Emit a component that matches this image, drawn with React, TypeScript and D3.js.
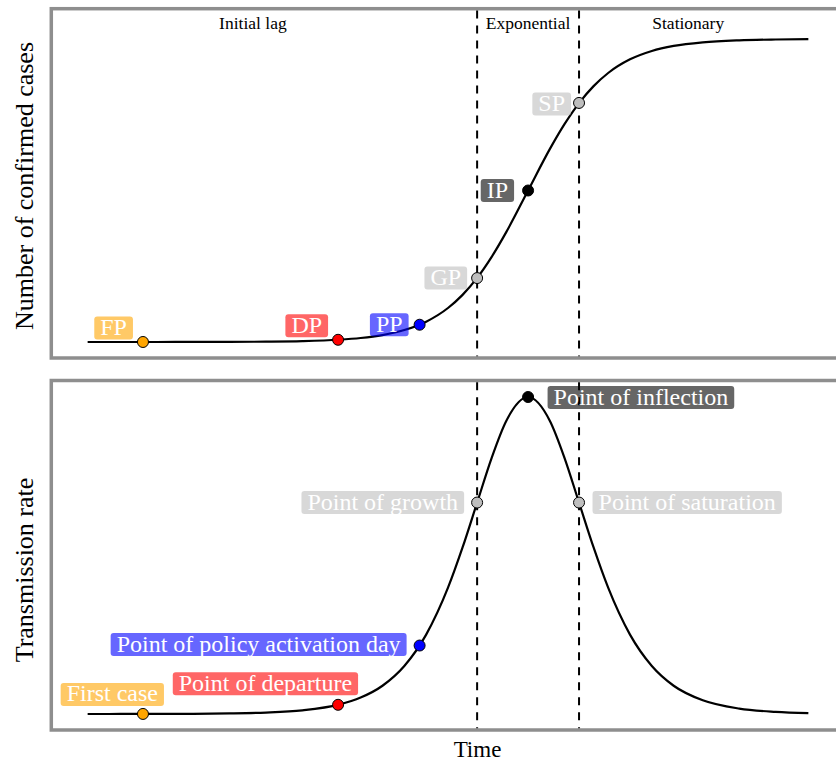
import { useEffect, useRef } from "react";
import * as d3 from "d3";

// time axis (days) and the two curves
const days = [0.5, 5, 10, 15, 20, 25, 30, 35, 38, 41, 44, 47, 50, 52, 54, 56, 58, 61, 64, 66, 68, 70, 72, 75, 78, 81, 85, 90, 95, 99.5];
const cases = [0.001, 0.003, 0.007, 0.018, 0.045, 0.115, 0.29, 0.75, 1.31, 2.28, 3.94, 6.71, 11.22, 15.55, 21.14, 28.1, 36.26, 50, 63.74, 71.9, 78.86, 84.45, 88.78, 93.29, 96.06, 97.72, 98.91, 99.57, 99.83, 99.93];
const rate = [0.004, 0.011, 0.027, 0.07, 0.18, 0.46, 1.17, 2.97, 5.18, 8.91, 15.14, 25.04, 39.84, 52.53, 66.68, 80.82, 92.45, 100, 92.45, 80.82, 66.68, 52.53, 39.84, 25.04, 15.14, 8.91, 4.31, 1.7, 0.67, 0.26];

// marked points
const eventCodes = ["FP", "DP", "PP", "GP", "IP", "SP"];
const eventNames = ["First case", "Point of departure", "Point of policy activation day", "Point of growth", "Point of inflection", "Point of saturation"];
const eventDays = [8.1, 34.9, 46.1, 54, 61, 68];
const eventCases = [0.004, 0.73, 5.7, 21.1, 50, 78.9];
const eventRate = [0.019, 2.9, 21.6, 66.7, 100, 66.7];

// phases
const phaseNames = ["Initial lag", "Exponential", "Stationary"];
const phaseBreaks = [54, 68];

// styling / layout
const eventColors = ["#FFA500", "#FF0000", "#0000FF", "#BEBEBE", "#000000", "#BEBEBE"];
const phaseLabelDays = [23.2, 61, 83];
// side: which side of the point the box sits, gap: px from point to nearest box edge, dy: box centre offset
const topLayout = [
  { side: "left", gap: 10, dy: -14 },
  { side: "left", gap: 10, dy: -14 },
  { side: "left", gap: 11, dy: 0 },
  { side: "left", gap: 10, dy: 0 },
  { side: "left", gap: 14, dy: 0 },
  { side: "left", gap: 8, dy: 1 },
];
const bottomLayout = [
  { side: "left", gap: -21, dy: -19.5 },
  { side: "left", gap: -20, dy: -21 },
  { side: "left", gap: 13, dy: -1 },
  { side: "left", gap: 13, dy: 0 },
  { side: "right", gap: 19.5, dy: 0.5 },
  { side: "right", gap: 13.5, dy: 0 },
];

const FONT = "'Liberation Serif', 'Times New Roman', serif";

export default function App() {
  const svgRef = useRef<SVGSVGElement>(null);

  useEffect(() => {
    const svg = d3.select(svgRef.current);
    svg.selectAll("*").remove();

    const x = d3.scaleLinear().domain([0, 100]).range([84, 812]);
    const yTop = d3.scaleLinear().domain([0, 100]).range([342, 39]);
    const yBot = d3.scaleLinear().domain([0, 100]).range([714, 397]);

    const panels = [
      { top: 8.7, bottom: 358, y: yTop, values: cases, ev: eventCases, names: eventCodes, layout: topLayout },
      { top: 380.5, bottom: 730, y: yBot, values: rate, ev: eventRate, names: eventNames, layout: bottomLayout },
    ];

    panels.forEach((p) => {
      const g = svg.append("g");
      // panel border
      g.append("rect")
        .attr("x", 51.3)
        .attr("y", p.top)
        .attr("width", 840)
        .attr("height", p.bottom - p.top)
        .attr("fill", "none")
        .attr("stroke", "#8e8e8e")
        .attr("stroke-width", 3.5);

      // phase boundaries
      g.selectAll(".phase")
        .data(phaseBreaks)
        .join("line")
        .attr("x1", (d) => x(d))
        .attr("x2", (d) => x(d))
        .attr("y1", p.top + 1.75)
        .attr("y2", p.bottom - 1.75)
        .attr("stroke", "#000")
        .attr("stroke-width", 2)
        .attr("stroke-dasharray", "8,7");

      // curve
      const line = d3
        .line<number>()
        .x((_, i) => x(days[i]))
        .y((v) => p.y(v))
        .curve(d3.curveMonotoneX);
      g.append("path")
        .attr("d", line(p.values))
        .attr("fill", "none")
        .attr("stroke", "#000")
        .attr("stroke-width", 2.2);

      // labels
      p.names.forEach((name, i) => {
        const px = x(eventDays[i]);
        const py = p.y(p.ev[i]);
        const lay = p.layout[i];
        const lg = g.append("g");
        const rect = lg.append("rect");
        const txt = lg
          .append("text")
          .text(name)
          .attr("font-family", FONT)
          .attr("font-size", 24)
          .attr("fill", "#fff");
        const w = (txt.node() as SVGTextElement).getComputedTextLength();
        const pad = 6;
        const bw = w + pad * 2;
        const bh = 23;
        const cy = py + lay.dy;
        const left = lay.side === "left" ? px - lay.gap - bw : px + lay.gap;
        rect
          .attr("x", left)
          .attr("y", cy - bh / 2)
          .attr("width", bw)
          .attr("height", bh)
          .attr("rx", 3)
          .attr("fill", eventColors[i])
          .attr("fill-opacity", 0.6);
        txt.attr("x", left + pad).attr("y", cy + 7);
      });

      // points
      g.selectAll(".pt")
        .data(eventDays)
        .join("circle")
        .attr("cx", (d) => x(d))
        .attr("cy", (_, i) => p.y(p.ev[i]))
        .attr("r", 5.5)
        .attr("fill", (_, i) => eventColors[i])
        .attr("stroke", "#000")
        .attr("stroke-width", 1);
    });

    // phase names
    svg.selectAll(".phaseName")
      .data(phaseNames)
      .join("text")
      .attr("x", (_, i) => x(phaseLabelDays[i]))
      .attr("y", 29)
      .attr("text-anchor", "middle")
      .attr("font-family", FONT)
      .attr("font-size", 17.5)
      .attr("fill", "#000")
      .text((d) => d);

    // axis titles
    svg.append("text")
      .attr("transform", "translate(33,186) rotate(-90)")
      .attr("text-anchor", "middle")
      .attr("font-family", FONT)
      .attr("font-size", 26)
      .text("Number of confirmed cases");
    svg.append("text")
      .attr("transform", "translate(33,570) rotate(-90)")
      .attr("text-anchor", "middle")
      .attr("font-family", FONT)
      .attr("font-size", 26)
      .text("Transmission rate");
    svg.append("text")
      .attr("x", 477.5)
      .attr("y", 757)
      .attr("text-anchor", "middle")
      .attr("font-family", FONT)
      .attr("font-size", 23)
      .text("Time");
  }, []);

  return (
    <svg
      ref={svgRef}
      width={836}
      height={763}
      style={{ position: "absolute", left: 0, top: 0, display: "block", background: "#fff" }}
    />
  );
}
